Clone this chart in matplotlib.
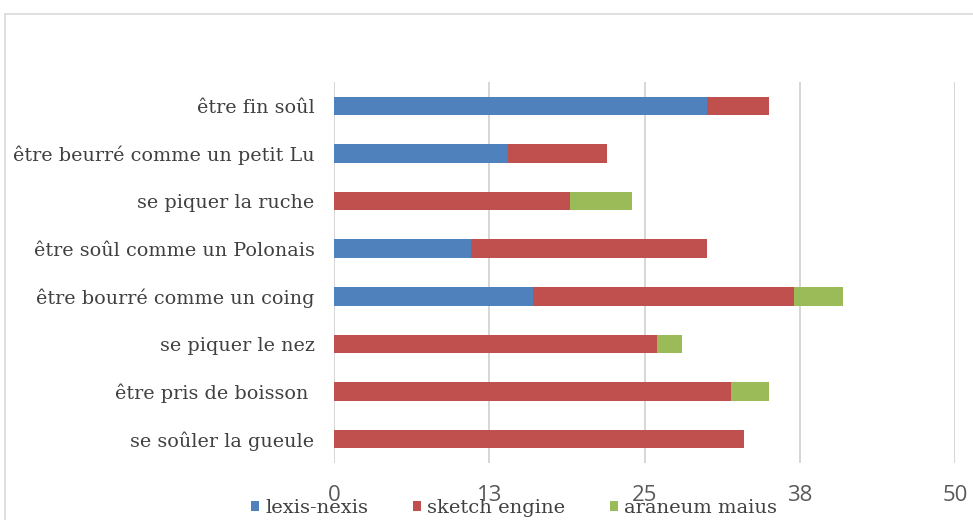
import matplotlib
matplotlib.use("Agg")
import matplotlib.pyplot as plt
from matplotlib.patches import Rectangle, Patch
import numpy as np

# Expressions (top to bottom) and counts per corpus
expressions = [
    "être fin soûl",
    "être beurré comme un petit Lu",
    "se piquer la ruche",
    "être soûl comme un Polonais",
    "être bourré comme un coing",
    "se piquer le nez",
    "être pris de boisson ",
    "se soûler la gueule",
]
lexis_nexis = [30, 14, 0, 11, 16, 0, 0, 0]
sketch_engine = [5, 8, 19, 19, 21, 26, 32, 33]
araneum_maius = [0, 0, 5, 0, 4, 2, 3, 0]
series_names = ["lexis-nexis", "sketch engine", "araneum maius"]
x_ticks = [0, 12.5, 25, 37.5, 50]
x_tick_labels = ["0", "13", "25", "38", "50"]

colors = ["#4f81bd", "#c0504d", "#9bbb59"]
text_color = "#404040"
grid_color = "#d0d0d0"
serif = ["DejaVu Serif"]

fig = plt.figure(figsize=(9.73, 5.2), dpi=100)
W, H = 973, 520

# outer chart frame
fig.patches.append(Rectangle((5 / W, -0.2), 1.2, 1.2 - 14 / H,
                             transform=fig.transFigure, fill=False,
                             edgecolor="#d9d9d9", linewidth=1.2))

left, right, top, bottom = 334, 955, 82, 463
ax = fig.add_axes([left / W, 1 - bottom / H, (right - left) / W, (bottom - top) / H])

y = np.arange(len(expressions))
lx = np.array(lexis_nexis)
sk = np.array(sketch_engine)
ar = np.array(araneum_maius)
h = 0.39
ax.barh(y, lx, height=h, color=colors[0], label=series_names[0])
ax.barh(y, sk, left=lx, height=h, color=colors[1], label=series_names[1])
ax.barh(y, ar, left=lx + sk, height=h, color=colors[2], label=series_names[2])

ax.set_xlim(0, 50)
ax.set_ylim(len(expressions) - 0.5, -0.5)
ax.set_xticks(x_ticks)
ax.set_xticklabels(x_tick_labels)
ax.set_yticks(y)
ax.set_yticklabels(expressions, family=serif, fontsize=13.8, color=text_color)
ax.tick_params(axis="both", length=0)
ax.tick_params(axis="y", pad=14)
ax.tick_params(axis="x", pad=16, labelsize=16, labelcolor="#595959")
for lab in ax.get_xticklabels():
    lab.set_family(["Open Sans"])

ax.grid(axis="x", color=grid_color, linewidth=1.2)
ax.set_axisbelow(True)
for s in ax.spines.values():
    s.set_visible(False)
ax.set_facecolor("none")

handles = [Patch(facecolor=c, edgecolor="none") for c in colors]
leg = fig.legend(handles, series_names, loc="center", bbox_to_anchor=(514 / W, 1 - 508 / H),
                 ncol=3, frameon=False, handlelength=0.42, handleheight=0.42,
                 handletextpad=0.3, columnspacing=2.3, borderpad=0,
                 prop={"family": serif, "size": 14})
for t in leg.get_texts():
    t.set_color(text_color)

fig.savefig("out.png", dpi=100)
